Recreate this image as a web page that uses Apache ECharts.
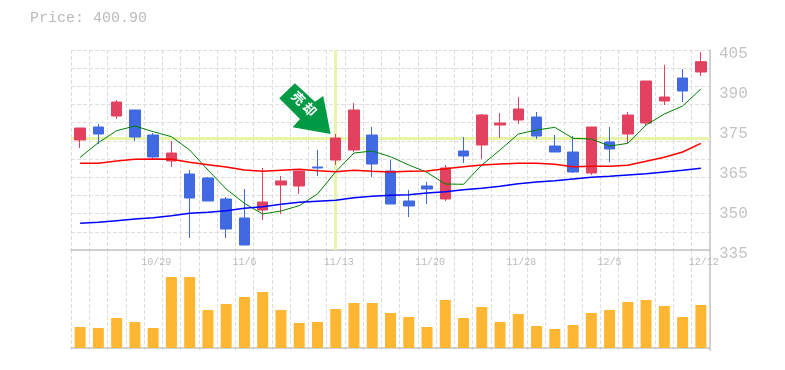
<!DOCTYPE html>
<html><head><meta charset="utf-8">
<script src="https://cdn.jsdelivr.net/npm/echarts@6/dist/echarts.min.js"></script>
<style>html,body{margin:0;padding:0;background:#fff}#c{width:785px;height:370px}</style></head>
<body><div id="c"></div>
<script>
const categories=['10/23','10/24','10/25','10/26','10/29','10/30','10/31','11/1','11/2','11/6','11/7','11/8','11/9','11/12','11/13','11/14','11/15','11/16','11/19','11/20','11/21','11/22','11/26','11/27','11/28','11/29','11/30','12/3','12/4','12/5','12/6','12/7','12/10','12/11','12/12'];
// open, close, low, high
const candles=[[373.5,377.7,370.7,377.7],[378.05,375.6,372.1,379.1],[381.9,386.8,380.85,387.5],[384,374.55,373.15,384],[375.25,367.55,367.2,375.95],[366.15,368.95,364.05,373.15],[361.6,353.2,339.2,363],[360.2,352.15,352.15,360.55],[352.85,342.35,339.2,353.55],[346.2,336.75,336.75,356.35],[349,351.8,345.5,363.7],[357.75,359.15,347.6,360.9],[357.4,362.65,354.6,362.65],[364.05,363.7,360.9,370],[366.5,374.2,364.75,375.6],[370,384,369.3,386.45],[375.25,365.1,360.55,378.05],[362.65,351.1,351.1,366.5],[352.15,350.4,346.55,356],[357.4,356.35,351.1,358.8],[352.85,363.7,352.15,364.75],[369.65,367.9,365.45,374.55],[371.75,382.25,366.85,382.6],[378.75,379.45,374.2,382.95],[380.5,384.35,379.1,388.55],[381.55,374.9,373.85,383.3],[371.4,369.3,369.3,375.25],[369.3,362.3,361.95,374.9],[361.95,378.05,361.25,378.05],[372.8,370.35,365.8,378.05],[375.6,382.25,372.45,383.3],[379.45,394.15,378.75,394.15],[387.15,388.55,385.75,399.75],[395.2,390.65,386.8,398.35],[397.3,400.9,395.9,404.3]];
const maGreen=[367.43,372.57,376.77,378.4,376.42,374.67,370,363,356.35,351.33,347.6,348.65,350.52,354.6,362.42,368.95,369.65,367.67,364.75,362.18,358.1,358,364.75,370,375.6,377,377.93,374.08,373.85,371.4,372.33,378.75,382.6,385.4,391.35];
const maRed=[365.33,365.33,366.15,366.73,366.85,366.73,365.68,364.87,364.05,363,362.53,362.88,363.23,362.77,362.42,362.88,362.53,362.3,362.53,362.65,363.47,364.17,364.75,365.1,365.33,365.33,364.98,364.17,364.28,364.28,364.63,366.03,367.43,369.3,372.33];
const maBlue=[344.33,344.68,345.27,345.85,346.32,347.02,347.83,348.18,348.77,349.58,350.17,350.98,351.68,352.03,352.38,353.32,353.78,354.13,354.37,354.95,355.42,356.12,356.58,357.28,358.22,358.8,359.27,359.85,360.43,360.78,361.25,361.72,362.3,362.88,363.58];
const volumes=[21,20,30,26,20,71,71,38,44,51,56,38,25,26,39,45,45,35,31,21,48,30,41,26,34,22,19,23,35,38,46,48,42,31,43];
const gridValues=[335,341.36,347.73,354.09,360.45,366.82,373.18,379.55,385.91,392.27,398.64,405];
const labelValues=[335,349,363,377,391,405];
const signalIndex=14, signalPrice=374.2;
const titleText='Price: 400.90';
const signalText='売 却';

const FONT='"Liberation Mono", monospace';
const GRID={color:'#dedede',width:1,type:[4,2]};
const AXIS={color:'#c4c4c4',width:1.5};
const HL='#e6f5a8';
const chart=echarts.init(document.getElementById('c'),null,{renderer:'canvas'});
const arrow='path://M295 83.3L279.3 98.3L300 119L292.7 127.3L330.7 134L323.3 96L315 101.7Z';
chart.setOption({
 animation:false,backgroundColor:'#fff',
 title:{text:titleText,left:25,top:6,textStyle:{fontFamily:FONT,fontSize:15,fontWeight:'normal',color:'#bbbbbb'}},
 grid:[{left:71,top:50,width:639,height:200},{left:71,top:250,width:639,height:100}],
 xAxis:[
  {type:'category',gridIndex:0,data:categories,boundaryGap:true,
   axisLine:{show:true,lineStyle:AXIS},axisTick:{show:false},
   splitLine:{show:true,interval:0,lineStyle:GRID},
   axisLabel:{interval:(i)=>i%5===4,fontFamily:FONT,fontSize:10,color:'#bbbbbb',margin:7,
    formatter:(v)=>(v.length===5?'\u00a0':'')+v}},
  {type:'category',gridIndex:1,data:categories,boundaryGap:true,
   axisLine:{show:true,lineStyle:AXIS},axisTick:{show:false},axisLabel:{show:false},
   splitLine:{show:true,interval:0,lineStyle:GRID}}
 ],
 yAxis:[
  {type:'value',gridIndex:0,position:'right',min:335,max:405,
   axisLine:{show:true,lineStyle:AXIS},
   axisTick:{show:false,customValues:gridValues},
   splitLine:{show:true,lineStyle:GRID},
   axisLabel:{customValues:labelValues,fontFamily:FONT,fontSize:16,color:'#c4c4c4',margin:9,verticalAlign:'top',lineHeight:8,
    formatter:(v)=>String(Math.round(v/5)*5),showMinLabel:true,showMaxLabel:true}},
  {type:'value',gridIndex:1,position:'right',min:-2,max:98,
   axisLine:{show:true,lineStyle:AXIS},axisTick:{show:false},axisLabel:{show:false},splitLine:{show:false}}
 ],
 series:[
  {type:'line',xAxisIndex:0,yAxisIndex:0,data:[],z:1,silent:true,
   markLine:{silent:true,z:1,symbol:'none',label:{show:false},animation:false,
    lineStyle:{color:HL,width:3,type:'solid'},
    data:[{yAxis:signalPrice},{xAxis:signalIndex}]}},
  {type:'candlestick',xAxisIndex:0,yAxisIndex:0,data:candles,barWidth:11,z:2,
   itemStyle:{color:'#e2425f',color0:'#4169e1',borderColor:'#e2425f',borderColor0:'#4169e1',borderWidth:1},
   markPoint:{silent:true,animation:false,z:6,data:[{coord:[signalIndex,signalPrice]}],
    symbol:arrow,symbolSize:[51.4,50.7],symbolOffset:[-30.8,-29.3],
    itemStyle:{color:'#009a44'},
    label:{show:true,formatter:signalText,position:'inside',rotate:-45,offset:[-4,-3],
     color:'#fff',fontSize:13,fontWeight:'bold',fontFamily:'"Noto Sans CJK JP"'}}},
  {type:'line',xAxisIndex:0,yAxisIndex:0,data:maGreen,showSymbol:false,z:3,lineStyle:{color:'#008000',width:1}},
  {type:'line',xAxisIndex:0,yAxisIndex:0,data:maRed,showSymbol:false,z:3,lineStyle:{color:'#ff0000',width:1.5}},
  {type:'line',xAxisIndex:0,yAxisIndex:0,data:maBlue,showSymbol:false,z:3,lineStyle:{color:'#0000ff',width:1.5}},
  {type:'bar',xAxisIndex:1,yAxisIndex:1,data:volumes,barWidth:11,z:2,itemStyle:{color:'#ffb733'}}
 ]
});
</script></body></html>
